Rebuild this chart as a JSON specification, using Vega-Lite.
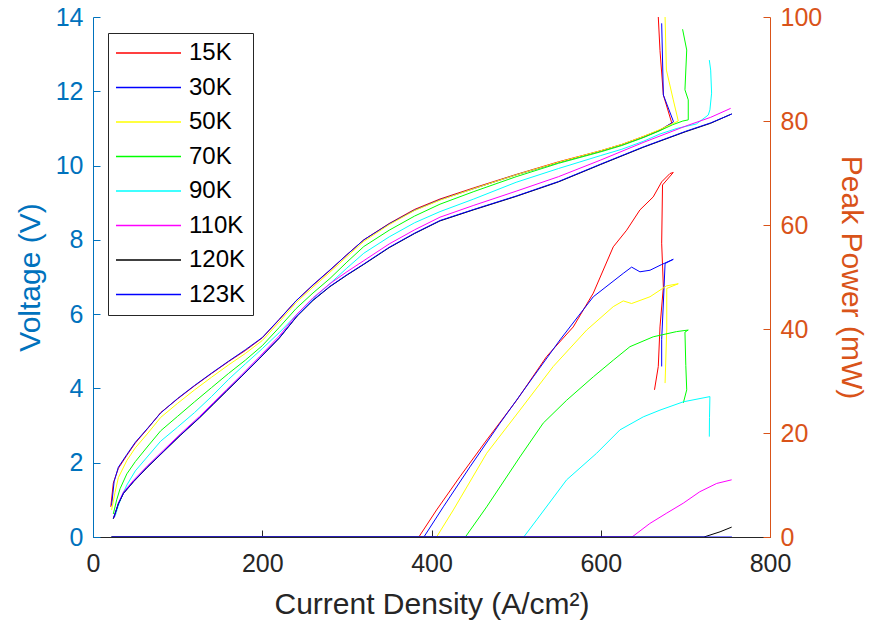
{
"$schema":"https://vega.github.io/schema/vega-lite/v6.json",
"width":677,"height":520,
"autosize":{"type":"none"},
"padding":{"left":93,"top":17,"right":110,"bottom":95},
"background":"white",
"config":{"view":{"stroke":null},"font":"Liberation Sans","axis":{"grid":false,"labelFont":"Liberation Sans","titleFont":"Liberation Sans","titleFontWeight":"normal"}},
"datasets":{
"iv":[
{"T":"15K","i":0,"J":21,"V":0.81},{"T":"15K","i":1,"J":24,"V":1.45},{"T":"15K","i":2,"J":30,"V":1.85},{"T":"15K","i":3,"J":40,"V":2.2},{"T":"15K","i":4,"J":50,"V":2.53},{"T":"15K","i":5,"J":65,"V":2.93},{"T":"15K","i":6,"J":80,"V":3.35},{"T":"15K","i":7,"J":100,"V":3.72},{"T":"15K","i":8,"J":120,"V":4.07},{"T":"15K","i":9,"J":140,"V":4.4},{"T":"15K","i":10,"J":160,"V":4.72},{"T":"15K","i":11,"J":180,"V":5.02},{"T":"15K","i":12,"J":200,"V":5.36},{"T":"15K","i":13,"J":220,"V":5.85},{"T":"15K","i":14,"J":240,"V":6.36},{"T":"15K","i":15,"J":260,"V":6.78},{"T":"15K","i":16,"J":280,"V":7.18},{"T":"15K","i":17,"J":300,"V":7.6},{"T":"15K","i":18,"J":320,"V":8.0},{"T":"15K","i":19,"J":350,"V":8.44},{"T":"15K","i":20,"J":380,"V":8.82},{"T":"15K","i":21,"J":410,"V":9.1},{"T":"15K","i":22,"J":450,"V":9.4},{"T":"15K","i":23,"J":500,"V":9.76},{"T":"15K","i":24,"J":550,"V":10.1},{"T":"15K","i":25,"J":600,"V":10.4},{"T":"15K","i":26,"J":625,"V":10.57},{"T":"15K","i":27,"J":650,"V":10.78},{"T":"15K","i":28,"J":670,"V":10.96},{"T":"15K","i":29,"J":684,"V":11.14},{"T":"15K","i":30,"J":674,"V":11.9},{"T":"15K","i":31,"J":670,"V":13.1},{"T":"15K","i":32,"J":668,"V":14.0},
{"T":"30K","i":0,"J":22,"V":0.85},{"T":"30K","i":1,"J":25,"V":1.5},{"T":"30K","i":2,"J":30,"V":1.88},{"T":"30K","i":3,"J":40,"V":2.22},{"T":"30K","i":4,"J":50,"V":2.55},{"T":"30K","i":5,"J":65,"V":2.94},{"T":"30K","i":6,"J":80,"V":3.34},{"T":"30K","i":7,"J":100,"V":3.73},{"T":"30K","i":8,"J":120,"V":4.08},{"T":"30K","i":9,"J":140,"V":4.41},{"T":"30K","i":10,"J":160,"V":4.73},{"T":"30K","i":11,"J":180,"V":5.04},{"T":"30K","i":12,"J":200,"V":5.37},{"T":"30K","i":13,"J":220,"V":5.86},{"T":"30K","i":14,"J":240,"V":6.36},{"T":"30K","i":15,"J":260,"V":6.79},{"T":"30K","i":16,"J":280,"V":7.19},{"T":"30K","i":17,"J":300,"V":7.6},{"T":"30K","i":18,"J":320,"V":8.0},{"T":"30K","i":19,"J":350,"V":8.43},{"T":"30K","i":20,"J":380,"V":8.8},{"T":"30K","i":21,"J":410,"V":9.08},{"T":"30K","i":22,"J":450,"V":9.38},{"T":"30K","i":23,"J":500,"V":9.75},{"T":"30K","i":24,"J":550,"V":10.08},{"T":"30K","i":25,"J":600,"V":10.39},{"T":"30K","i":26,"J":625,"V":10.56},{"T":"30K","i":27,"J":650,"V":10.76},{"T":"30K","i":28,"J":670,"V":10.95},{"T":"30K","i":29,"J":686,"V":11.18},{"T":"30K","i":30,"J":674,"V":11.9},{"T":"30K","i":31,"J":672,"V":13.83},
{"T":"50K","i":0,"J":22,"V":0.73},{"T":"50K","i":1,"J":26,"V":1.2},{"T":"50K","i":2,"J":30,"V":1.6},{"T":"50K","i":3,"J":40,"V":2.06},{"T":"50K","i":4,"J":50,"V":2.4},{"T":"50K","i":5,"J":65,"V":2.8},{"T":"50K","i":6,"J":80,"V":3.22},{"T":"50K","i":7,"J":100,"V":3.6},{"T":"50K","i":8,"J":120,"V":3.96},{"T":"50K","i":9,"J":140,"V":4.3},{"T":"50K","i":10,"J":160,"V":4.63},{"T":"50K","i":11,"J":180,"V":4.94},{"T":"50K","i":12,"J":200,"V":5.29},{"T":"50K","i":13,"J":220,"V":5.79},{"T":"50K","i":14,"J":240,"V":6.31},{"T":"50K","i":15,"J":260,"V":6.73},{"T":"50K","i":16,"J":280,"V":7.13},{"T":"50K","i":17,"J":300,"V":7.55},{"T":"50K","i":18,"J":320,"V":7.96},{"T":"50K","i":19,"J":350,"V":8.41},{"T":"50K","i":20,"J":380,"V":8.79},{"T":"50K","i":21,"J":410,"V":9.07},{"T":"50K","i":22,"J":450,"V":9.38},{"T":"50K","i":23,"J":500,"V":9.75},{"T":"50K","i":24,"J":550,"V":10.09},{"T":"50K","i":25,"J":600,"V":10.4},{"T":"50K","i":26,"J":625,"V":10.57},{"T":"50K","i":27,"J":650,"V":10.78},{"T":"50K","i":28,"J":670,"V":10.97},{"T":"50K","i":29,"J":684,"V":11.12},{"T":"50K","i":30,"J":691.6,"V":11.2},{"T":"50K","i":31,"J":685.7,"V":11.77},{"T":"50K","i":32,"J":677.6,"V":12.57},{"T":"50K","i":33,"J":676,"V":14.0},
{"T":"70K","i":0,"J":24,"V":0.62},{"T":"70K","i":1,"J":28,"V":1.0},{"T":"70K","i":2,"J":32,"V":1.3},{"T":"70K","i":3,"J":40,"V":1.7},{"T":"70K","i":4,"J":50,"V":2.03},{"T":"70K","i":5,"J":65,"V":2.45},{"T":"70K","i":6,"J":80,"V":2.86},{"T":"70K","i":7,"J":100,"V":3.25},{"T":"70K","i":8,"J":120,"V":3.64},{"T":"70K","i":9,"J":140,"V":4.02},{"T":"70K","i":10,"J":160,"V":4.4},{"T":"70K","i":11,"J":180,"V":4.76},{"T":"70K","i":12,"J":200,"V":5.15},{"T":"70K","i":13,"J":220,"V":5.64},{"T":"70K","i":14,"J":240,"V":6.15},{"T":"70K","i":15,"J":260,"V":6.57},{"T":"70K","i":16,"J":280,"V":6.96},{"T":"70K","i":17,"J":300,"V":7.4},{"T":"70K","i":18,"J":320,"V":7.82},{"T":"70K","i":19,"J":350,"V":8.26},{"T":"70K","i":20,"J":380,"V":8.64},{"T":"70K","i":21,"J":410,"V":8.96},{"T":"70K","i":22,"J":450,"V":9.3},{"T":"70K","i":23,"J":500,"V":9.7},{"T":"70K","i":24,"J":550,"V":10.06},{"T":"70K","i":25,"J":600,"V":10.37},{"T":"70K","i":26,"J":625,"V":10.54},{"T":"70K","i":27,"J":650,"V":10.75},{"T":"70K","i":28,"J":670,"V":10.94},{"T":"70K","i":29,"J":685,"V":11.1},{"T":"70K","i":30,"J":697,"V":11.2},{"T":"70K","i":31,"J":703.4,"V":11.23},{"T":"70K","i":32,"J":703.4,"V":11.77},{"T":"70K","i":33,"J":699.5,"V":12.04},{"T":"70K","i":34,"J":701.6,"V":13.11},{"T":"70K","i":35,"J":696.7,"V":13.67},
{"T":"90K","i":0,"J":26,"V":0.55},{"T":"90K","i":1,"J":30,"V":0.85},{"T":"90K","i":2,"J":35,"V":1.15},{"T":"90K","i":3,"J":40,"V":1.4},{"T":"90K","i":4,"J":50,"V":1.78},{"T":"90K","i":5,"J":65,"V":2.18},{"T":"90K","i":6,"J":80,"V":2.58},{"T":"90K","i":7,"J":100,"V":2.96},{"T":"90K","i":8,"J":120,"V":3.35},{"T":"90K","i":9,"J":140,"V":3.78},{"T":"90K","i":10,"J":160,"V":4.24},{"T":"90K","i":11,"J":180,"V":4.66},{"T":"90K","i":12,"J":200,"V":5.07},{"T":"90K","i":13,"J":220,"V":5.5},{"T":"90K","i":14,"J":240,"V":5.97},{"T":"90K","i":15,"J":260,"V":6.42},{"T":"90K","i":16,"J":280,"V":6.82},{"T":"90K","i":17,"J":300,"V":7.24},{"T":"90K","i":18,"J":320,"V":7.64},{"T":"90K","i":19,"J":350,"V":8.08},{"T":"90K","i":20,"J":380,"V":8.46},{"T":"90K","i":21,"J":410,"V":8.76},{"T":"90K","i":22,"J":450,"V":9.1},{"T":"90K","i":23,"J":500,"V":9.55},{"T":"90K","i":24,"J":550,"V":9.92},{"T":"90K","i":25,"J":600,"V":10.27},{"T":"90K","i":26,"J":625,"V":10.44},{"T":"90K","i":27,"J":650,"V":10.65},{"T":"90K","i":28,"J":670,"V":10.85},{"T":"90K","i":29,"J":690,"V":11.0},{"T":"90K","i":30,"J":713,"V":11.12},{"T":"90K","i":31,"J":727,"V":11.36},{"T":"90K","i":32,"J":729,"V":11.5},{"T":"90K","i":33,"J":731,"V":11.95},{"T":"90K","i":34,"J":729.9,"V":12.57},{"T":"90K","i":35,"J":728.3,"V":12.84},
{"T":"110K","i":0,"J":25,"V":0.52},{"T":"110K","i":1,"J":30,"V":0.92},{"T":"110K","i":2,"J":36,"V":1.21},{"T":"110K","i":3,"J":48,"V":1.53},{"T":"110K","i":4,"J":64,"V":1.91},{"T":"110K","i":5,"J":83,"V":2.33},{"T":"110K","i":6,"J":103,"V":2.77},{"T":"110K","i":7,"J":126,"V":3.25},{"T":"110K","i":8,"J":142,"V":3.61},{"T":"110K","i":9,"J":158,"V":3.97},{"T":"110K","i":10,"J":175,"V":4.35},{"T":"110K","i":11,"J":197,"V":4.86},{"T":"110K","i":12,"J":220,"V":5.41},{"T":"110K","i":13,"J":241,"V":6.0},{"T":"110K","i":14,"J":260,"V":6.44},{"T":"110K","i":15,"J":280,"V":6.82},{"T":"110K","i":16,"J":300,"V":7.14},{"T":"110K","i":17,"J":320,"V":7.44},{"T":"110K","i":18,"J":350,"V":7.89},{"T":"110K","i":19,"J":380,"V":8.27},{"T":"110K","i":20,"J":410,"V":8.61},{"T":"110K","i":21,"J":450,"V":8.93},{"T":"110K","i":22,"J":500,"V":9.31},{"T":"110K","i":23,"J":550,"V":9.7},{"T":"110K","i":24,"J":600,"V":10.15},{"T":"110K","i":25,"J":650,"V":10.62},{"T":"110K","i":26,"J":700,"V":11.06},{"T":"110K","i":27,"J":730,"V":11.3},{"T":"110K","i":28,"J":753.5,"V":11.54},
{"T":"120K","i":0,"J":24,"V":0.49},{"T":"120K","i":1,"J":30,"V":0.89},{"T":"120K","i":2,"J":36,"V":1.17},{"T":"120K","i":3,"J":48,"V":1.49},{"T":"120K","i":4,"J":64,"V":1.87},{"T":"120K","i":5,"J":83,"V":2.29},{"T":"120K","i":6,"J":103,"V":2.73},{"T":"120K","i":7,"J":126,"V":3.21},{"T":"120K","i":8,"J":142,"V":3.57},{"T":"120K","i":9,"J":158,"V":3.93},{"T":"120K","i":10,"J":175,"V":4.31},{"T":"120K","i":11,"J":197,"V":4.81},{"T":"120K","i":12,"J":220,"V":5.35},{"T":"120K","i":13,"J":241,"V":5.94},{"T":"120K","i":14,"J":260,"V":6.37},{"T":"120K","i":15,"J":280,"V":6.74},{"T":"120K","i":16,"J":300,"V":7.05},{"T":"120K","i":17,"J":320,"V":7.34},{"T":"120K","i":18,"J":350,"V":7.79},{"T":"120K","i":19,"J":380,"V":8.17},{"T":"120K","i":20,"J":410,"V":8.51},{"T":"120K","i":21,"J":450,"V":8.81},{"T":"120K","i":22,"J":500,"V":9.17},{"T":"120K","i":23,"J":550,"V":9.56},{"T":"120K","i":24,"J":600,"V":10.03},{"T":"120K","i":25,"J":650,"V":10.49},{"T":"120K","i":26,"J":700,"V":10.91},{"T":"120K","i":27,"J":730,"V":11.14},{"T":"120K","i":28,"J":754.7,"V":11.39},
{"T":"123K","i":0,"J":24,"V":0.5},{"T":"123K","i":1,"J":30,"V":0.9},{"T":"123K","i":2,"J":36,"V":1.18},{"T":"123K","i":3,"J":48,"V":1.5},{"T":"123K","i":4,"J":64,"V":1.88},{"T":"123K","i":5,"J":83,"V":2.3},{"T":"123K","i":6,"J":103,"V":2.74},{"T":"123K","i":7,"J":126,"V":3.22},{"T":"123K","i":8,"J":142,"V":3.58},{"T":"123K","i":9,"J":158,"V":3.94},{"T":"123K","i":10,"J":175,"V":4.32},{"T":"123K","i":11,"J":197,"V":4.82},{"T":"123K","i":12,"J":220,"V":5.36},{"T":"123K","i":13,"J":241,"V":5.95},{"T":"123K","i":14,"J":260,"V":6.38},{"T":"123K","i":15,"J":280,"V":6.75},{"T":"123K","i":16,"J":300,"V":7.06},{"T":"123K","i":17,"J":320,"V":7.35},{"T":"123K","i":18,"J":350,"V":7.8},{"T":"123K","i":19,"J":380,"V":8.18},{"T":"123K","i":20,"J":410,"V":8.52},{"T":"123K","i":21,"J":450,"V":8.82},{"T":"123K","i":22,"J":500,"V":9.18},{"T":"123K","i":23,"J":550,"V":9.57},{"T":"123K","i":24,"J":600,"V":10.04},{"T":"123K","i":25,"J":650,"V":10.5},{"T":"123K","i":26,"J":700,"V":10.92},{"T":"123K","i":27,"J":730,"V":11.15},{"T":"123K","i":28,"J":755,"V":11.39}
],
"pw":[
{"T":"15K","i":0,"J":22,"P":0},{"T":"15K","i":1,"J":385,"P":0},{"T":"15K","i":2,"J":406,"P":5.2},{"T":"15K","i":3,"J":433.6,"P":11.6},{"T":"15K","i":4,"J":465.2,"P":18.65},{"T":"15K","i":5,"J":500.7,"P":26.3},{"T":"15K","i":6,"J":536,"P":34.7},{"T":"15K","i":7,"J":567.5,"P":40.4},{"T":"15K","i":8,"J":591.2,"P":46.9},{"T":"15K","i":9,"J":614.8,"P":55.8},{"T":"15K","i":10,"J":630.6,"P":59.0},{"T":"15K","i":11,"J":646.3,"P":62.9},{"T":"15K","i":12,"J":662,"P":65.4},{"T":"15K","i":13,"J":672,"P":68.3},{"T":"15K","i":14,"J":681.8,"P":69.9},{"T":"15K","i":15,"J":685.7,"P":70.1},{"T":"15K","i":16,"J":673,"P":67.7},{"T":"15K","i":17,"J":672,"P":56.5},{"T":"15K","i":18,"J":674,"P":48.1},{"T":"15K","i":19,"J":670,"P":40.4},{"T":"15K","i":20,"J":668,"P":32.8},{"T":"15K","i":21,"J":663.5,"P":28.3},
{"T":"30K","i":0,"J":22,"P":0},{"T":"30K","i":1,"J":391,"P":0},{"T":"30K","i":2,"J":414,"P":5.8},{"T":"30K","i":3,"J":445.5,"P":13.5},{"T":"30K","i":4,"J":481,"P":21.9},{"T":"30K","i":5,"J":520.3,"P":30.8},{"T":"30K","i":6,"J":551.8,"P":37.9},{"T":"30K","i":7,"J":591.2,"P":46.2},{"T":"30K","i":8,"J":626.6,"P":50.7},{"T":"30K","i":9,"J":636.5,"P":51.9},{"T":"30K","i":10,"J":646.3,"P":51.0},{"T":"30K","i":11,"J":658.2,"P":51.3},{"T":"30K","i":12,"J":672,"P":52.4},{"T":"30K","i":13,"J":685.7,"P":53.4},{"T":"30K","i":14,"J":676,"P":52.6},{"T":"30K","i":15,"J":674,"P":45},{"T":"30K","i":16,"J":672,"P":38},{"T":"30K","i":17,"J":672,"P":32.8},
{"T":"50K","i":0,"J":22,"P":0},{"T":"50K","i":1,"J":406,"P":0},{"T":"50K","i":2,"J":425.8,"P":5.2},{"T":"50K","i":3,"J":465.2,"P":16.1},{"T":"50K","i":4,"J":504.5,"P":24.4},{"T":"50K","i":5,"J":543.9,"P":32.8},{"T":"50K","i":6,"J":583.4,"P":39.8},{"T":"50K","i":7,"J":614.8,"P":44.3},{"T":"50K","i":8,"J":626.6,"P":45.4},{"T":"50K","i":9,"J":636.5,"P":44.9},{"T":"50K","i":10,"J":658.2,"P":46.2},{"T":"50K","i":11,"J":677.8,"P":48.3},{"T":"50K","i":12,"J":691.6,"P":48.7},{"T":"50K","i":13,"J":678,"P":47.8},{"T":"50K","i":14,"J":678,"P":40},{"T":"50K","i":15,"J":676,"P":29.6},
{"T":"70K","i":0,"J":22,"P":0},{"T":"70K","i":1,"J":440,"P":0},{"T":"70K","i":2,"J":465.2,"P":5.8},{"T":"70K","i":3,"J":504.5,"P":15.4},{"T":"70K","i":4,"J":532,"P":21.9},{"T":"70K","i":5,"J":559.7,"P":26.3},{"T":"70K","i":6,"J":591.2,"P":30.8},{"T":"70K","i":7,"J":614.8,"P":34.0},{"T":"70K","i":8,"J":634.5,"P":36.6},{"T":"70K","i":9,"J":662,"P":38.5},{"T":"70K","i":10,"J":689.6,"P":39.5},{"T":"70K","i":11,"J":703.4,"P":39.8},{"T":"70K","i":12,"J":699.5,"P":39.4},{"T":"70K","i":13,"J":700.5,"P":33},{"T":"70K","i":14,"J":701.6,"P":28.3},{"T":"70K","i":15,"J":697.6,"P":25.8},
{"T":"90K","i":0,"J":22,"P":0},{"T":"90K","i":1,"J":509,"P":0},{"T":"90K","i":2,"J":524.3,"P":3.3},{"T":"90K","i":3,"J":559.7,"P":11.0},{"T":"90K","i":4,"J":595.1,"P":16.1},{"T":"90K","i":5,"J":622.7,"P":20.6},{"T":"90K","i":6,"J":650.2,"P":23.1},{"T":"90K","i":7,"J":670,"P":24.4},{"T":"90K","i":8,"J":697.6,"P":26.0},{"T":"90K","i":9,"J":729,"P":27.0},{"T":"90K","i":10,"J":728.5,"P":23},{"T":"90K","i":11,"J":728.3,"P":19.3},
{"T":"110K","i":0,"J":22,"P":0},{"T":"110K","i":1,"J":637,"P":0},{"T":"110K","i":2,"J":658,"P":2.6},{"T":"110K","i":3,"J":678,"P":4.6},{"T":"110K","i":4,"J":697.5,"P":6.5},{"T":"110K","i":5,"J":717,"P":8.7},{"T":"110K","i":6,"J":737,"P":10.3},{"T":"110K","i":7,"J":754.7,"P":11.0},
{"T":"120K","i":0,"J":22,"P":0},{"T":"120K","i":1,"J":722,"P":0},{"T":"120K","i":2,"J":741,"P":1.0},{"T":"120K","i":3,"J":754.7,"P":1.9},
{"T":"123K","i":0,"J":22,"P":0},{"T":"123K","i":1,"J":755,"P":0}
]},
"layer":[
{"data":{"name":"iv"},
 "mark":{"type":"line","strokeWidth":1,"clip":true},
 "encoding":{
  "x":{"field":"J","type":"quantitative","scale":{"domain":[0,800],"nice":false},
       "axis":{"values":[0,200,400,600,800],"title":"Current Density (A/cm²)","tickSize":-7,"labelPadding":21,"titlePadding":13,"labelFontSize":25,"titleFontSize":30,"labelColor":"#262626","titleColor":"#262626","domainColor":"#262626","tickColor":"#262626","labelFlush":false,"labelOverlap":false}},
  "y":{"field":"V","type":"quantitative","scale":{"domain":[0,14],"nice":false},
       "axis":{"values":[0,2,4,6,8,10,12,14],"title":"Voltage (V)","tickSize":-7,"labelPadding":17,"titlePadding":10,"labelFontSize":25,"titleFontSize":30,"labelColor":"#0072BD","titleColor":"#0072BD","domainColor":"#0072BD","tickColor":"#0072BD","labelFlush":false,"labelOverlap":false}},
  "color":{"field":"T","type":"nominal",
       "scale":{"domain":["15K","30K","50K","70K","90K","110K","120K","123K"],"range":["#ff0000","#0000ff","#ffff00","#00ff00","#00ffff","#ff00ff","#000000","#0000ff"]},
       "legend":{"orient":"none","legendX":15,"legendY":16,"title":null,"symbolType":"stroke","symbolSize":4225,"symbolStrokeWidth":1.5,"labelFontSize":24,"labelColor":"#000000","labelFont":"Liberation Sans","labelOffset":7,"clipHeight":26,"rowPadding":8.5,"padding":7,"strokeColor":"#262626","fillColor":"white"}},
  "order":{"field":"i","type":"quantitative"}
 }},
{"data":{"name":"pw"},
 "mark":{"type":"line","strokeWidth":1,"clip":true},
 "encoding":{
  "x":{"field":"J","type":"quantitative"},
  "y":{"field":"P","type":"quantitative","scale":{"domain":[0,100],"nice":false},
       "axis":{"orient":"right","values":[0,20,40,60,80,100],"title":"Peak Power (mW)","tickSize":-7,"labelPadding":17,"titlePadding":14,"labelFontSize":25,"titleFontSize":30,"labelColor":"#D95319","titleColor":"#D95319","domainColor":"#D95319","tickColor":"#D95319","labelFlush":false,"labelOverlap":false}},
  "color":{"field":"T","type":"nominal"},
  "order":{"field":"i","type":"quantitative"}
 }}
],
"resolve":{"scale":{"y":"independent"}}
}
